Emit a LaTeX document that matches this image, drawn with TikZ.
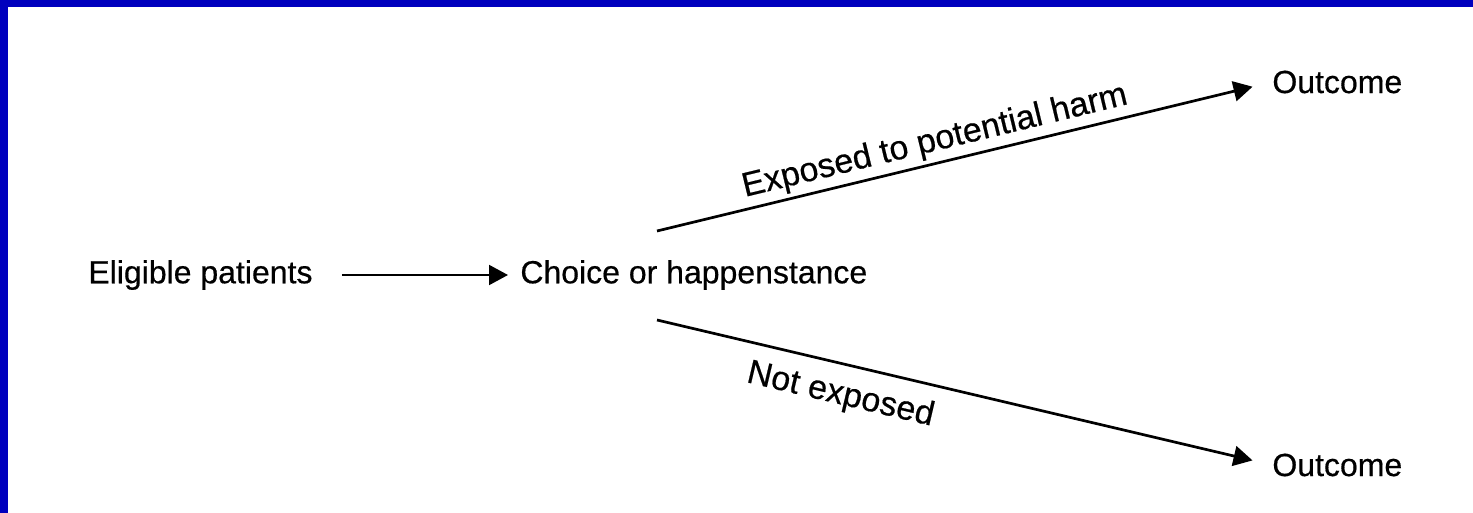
\documentclass[tikz,border=0pt]{standalone}
\usepackage{fontspec}
\setmainfont{Liberation Sans}[FakeBold=0.5]
\usetikzlibrary{arrows.meta,positioning}
\definecolor{slideblue}{RGB}{0,0,190}

\begin{document}
\begin{tikzpicture}[x=0.5pt, y=-0.5pt,
    every node/.style={font=\fontsize{16}{19}\selectfont, inner sep=0pt},
    branch label/.style={font=\fontsize{17}{20}\selectfont, sloped},
    flow/.style={-{Triangle[length=9.5pt,width=10pt]}, line width=1.35pt}]
  \fill[white] (0,0) rectangle (1473,513);
  \fill[slideblue] (0,0) rectangle (1473,7);
  \fill[slideblue] (0,0) rectangle (8,513);
  \useasboundingbox (0,0) rectangle (1473,513);

  \node (patients) [anchor=west] at (88,275) {Eligible patients};
  \node (choice) [anchor=west] at (520,275) {Choice or happenstance};
  \node (harm) [anchor=west] at (1272,82) {Outcome};
  \node (noharm) [anchor=west] at (1272,465) {Outcome};
  \coordinate (fork top) at (657,231);
  \coordinate (fork bottom) at (657,320);

  \draw[flow, line width=1pt, shorten <=14.5pt, shorten >=6pt] (patients) -- (choice);
  \draw[flow, shorten >=10pt] (fork top) -- node[branch label, above, pos=0.46, inner sep=2pt] {Exposed to potential harm} (harm.west);
  \draw[flow, shorten >=10pt] (fork bottom) -- node[branch label, below, pos=0.31, inner sep=7pt] {Not exposed} (noharm.west);
\end{tikzpicture}
\end{document}
